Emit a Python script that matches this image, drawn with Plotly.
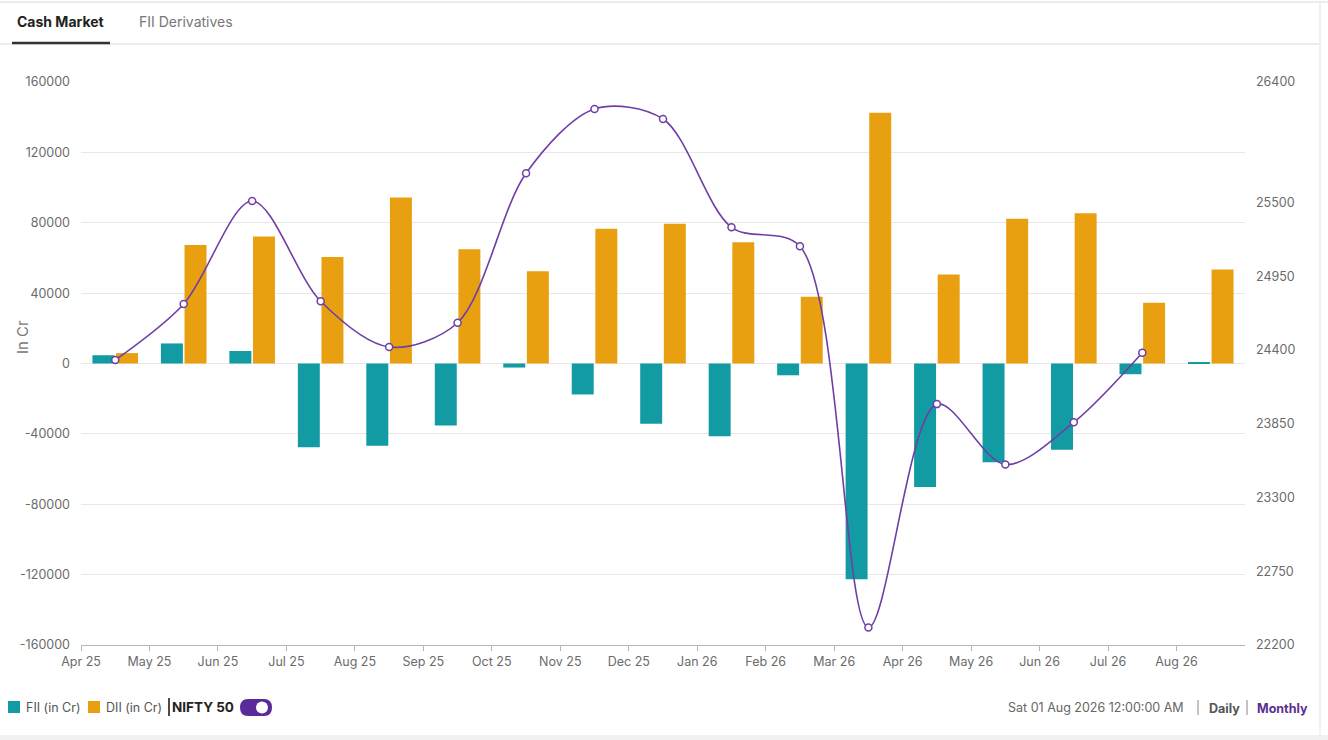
import plotly.graph_objects as go

# --- Data ---
months = ["Apr 25", "May 25", "Jun 25", "Jul 25", "Aug 25", "Sep 25", "Oct 25", "Nov 25",
          "Dec 25", "Jan 26", "Feb 26", "Mar 26", "Apr 26", "May 26", "Jun 26", "Jul 26", "Aug 26"]
fii_cr = [4700, 11400, 7100, -47600, -46800, -35200, -2300, -17600,
          -34300, -41300, -6700, -122600, -70200, -56100, -49000, -6100, 600]
dii_cr = [5900, 67300, 72200, 60500, 94400, 64900, 52400, 76600,
          79500, 68900, 38000, 142500, 50650, 82300, 85400, 34600, 53400]
nifty_50 = [24326, 24744, 25512, 24764, 24423, 24604, 25719, 26199,
            26124, 25316, 25175, 22331, 23997, 23546, 23861, 24380]
left_ticks = [-160000, -120000, -80000, -40000, 0, 40000, 80000, 120000, 160000]
right_ticks = [22200, 22750, 23300, 23850, 24400, 24950, 25500, 26400]

# --- Styling ---
FONT = "Inter, Roboto, sans-serif"
TEAL = "#139BA3"
ORANGE = "#E8A011"
PURPLE = "#6E3FA6"
TICK = "#6b6b6b"
W, H = 1328, 740
L, R, T, B = 81, 1245, 82, 645


def px(x):
    return (x - L) / (R - L)


def py(y):
    return (B - y) / (B - T)


# bars sit between month ticks, the line sits on the group centres
xs = [i + 0.5 for i in range(len(months))]

fig = go.Figure()
fig.add_trace(go.Bar(x=xs, y=fii_cr, name="FII (in Cr)", marker=dict(color=TEAL, line_width=0)))
fig.add_trace(go.Bar(x=xs, y=dii_cr, name="DII (in Cr)", marker=dict(color=ORANGE, line_width=0)))
fig.add_trace(go.Scatter(
    x=xs[:len(nifty_50)], y=nifty_50, name="NIFTY 50", yaxis="y2",
    mode="lines+markers",
    line=dict(color=PURPLE, width=1.6, shape="spline", smoothing=0.9),
    marker=dict(size=7, color="white", line=dict(color=PURPLE, width=1.5)),
))

shapes = [
    # card frame / separators
    dict(type="line", xref="paper", yref="paper", x0=px(0), x1=px(1328), y0=py(2), y1=py(2),
         line=dict(color="#e6e6e6", width=1.5)),
    dict(type="line", xref="paper", yref="paper", x0=px(0), x1=px(1320), y0=py(44), y1=py(44),
         line=dict(color="#dcdcdc", width=1)),
    dict(type="line", xref="paper", yref="paper", x0=px(12), x1=px(110), y0=py(43), y1=py(43),
         line=dict(color="#333333", width=2.5)),
    dict(type="line", xref="paper", yref="paper", x0=px(1320), x1=px(1320), y0=py(2), y1=py(735),
         line=dict(color="#ececec", width=1.5)),
    dict(type="rect", xref="paper", yref="paper", x0=px(0), x1=px(1328), y0=py(735), y1=py(740),
         fillcolor="#f1f1f1", line_width=0),
    # legend swatches
    dict(type="rect", xref="paper", yref="paper", x0=px(8), x1=px(20), y0=py(701), y1=py(713),
         fillcolor=TEAL, line_width=0),
    dict(type="rect", xref="paper", yref="paper", x0=px(88), x1=px(100), y0=py(701), y1=py(713),
         fillcolor=ORANGE, line_width=0),
    dict(type="line", xref="paper", yref="paper", x0=px(169), x1=px(169), y0=py(698), y1=py(716),
         line=dict(color="#111111", width=1.5)),
    # toggle
    dict(type="path", xref="paper", yref="paper",
         path=(f"M {px(248)},{py(699)} L {px(264)},{py(699)} "
               f"Q {px(272)},{py(699)} {px(272)},{py(707.5)} Q {px(272)},{py(716)} {px(264)},{py(716)} "
               f"L {px(248)},{py(716)} Q {px(240)},{py(716)} {px(240)},{py(707.5)} "
               f"Q {px(240)},{py(699)} {px(248)},{py(699)} Z"),
         fillcolor="#5B2A9A", line_width=0),
    dict(type="circle", xref="paper", yref="paper", x0=px(256), x1=px(268), y0=py(701.5), y1=py(713.5),
         fillcolor="white", line_width=0),
    # footer separators
    dict(type="line", xref="paper", yref="paper", x0=px(1198), x1=px(1198), y0=py(700), y1=py(715),
         line=dict(color="#888888", width=1)),
    dict(type="line", xref="paper", yref="paper", x0=px(1247), x1=px(1247), y0=py(700), y1=py(715),
         line=dict(color="#888888", width=1)),
]


def note(text, x, y, size=12.5, color=TICK, anchor="left", bold=False, angle=0):
    return dict(text=f"<b>{text}</b>" if bold else text, x=px(x), y=py(y), xref="paper", yref="paper",
                xanchor=anchor, yanchor="middle", showarrow=False, textangle=angle,
                font=dict(family=FONT, size=size, color=color))


annotations = [
    note("Cash Market", 15, 22, size=14, color="#222222", bold=True),
    note("FII Derivatives", 137, 22, size=14, color="#777777"),
    note("In Cr", 22, 337, size=15, color="#777777", anchor="center", angle=-90),
    note("FII (in Cr)", 24, 707, color="#555555"),
    note("DII (in Cr)", 104, 707, color="#555555"),
    note("NIFTY 50", 170, 707, size=13.5, color="#222222", bold=True),
    note("Sat 01 Aug 2026 12:00:00 AM", 1186, 707, color="#666666", anchor="right"),
    note("Daily", 1207, 708, color="#555555", bold=True),
    note("Monthly", 1255, 708, color="#5B2F91", bold=True),
]

fig.update_layout(
    width=W, height=H,
    margin=dict(l=L, r=W - R, t=T, b=H - B, pad=0),
    paper_bgcolor="white", plot_bgcolor="white",
    font=dict(family=FONT, size=12.5, color=TICK),
    barmode="group", bargap=0.31, bargroupgap=0.07,
    showlegend=False,
    xaxis=dict(range=[0, len(months)], tickvals=list(range(len(months))), ticktext=months,
               showgrid=False, zeroline=False, showline=True, linecolor="#b5b5b5", linewidth=1,
               ticks="outside", ticklen=5, tickcolor="#b5b5b5", tickfont=dict(size=12.5, color=TICK)),
    yaxis=dict(range=[-160000, 160000], tickvals=left_ticks, ticktext=[str(v) for v in left_ticks],
               showgrid=True, gridcolor="#e8e8e8",
               zeroline=True, zerolinecolor="#e8e8e8", zerolinewidth=1, showline=False,
               ticks="", ticklabelstandoff=10, tickfont=dict(size=12.5, color=TICK)),
    yaxis2=dict(range=[22200, 26400], tickvals=right_ticks, ticktext=[str(v) for v in right_ticks],
                overlaying="y", side="right",
                showgrid=False, zeroline=False, showline=False, ticks="",
                ticklabelstandoff=10, tickfont=dict(size=12.5, color=TICK)),
    shapes=shapes,
    annotations=annotations,
)

fig.write_html("out.html", config={"displayModeBar": False},
               post_script="document.body.style.margin='0';")
